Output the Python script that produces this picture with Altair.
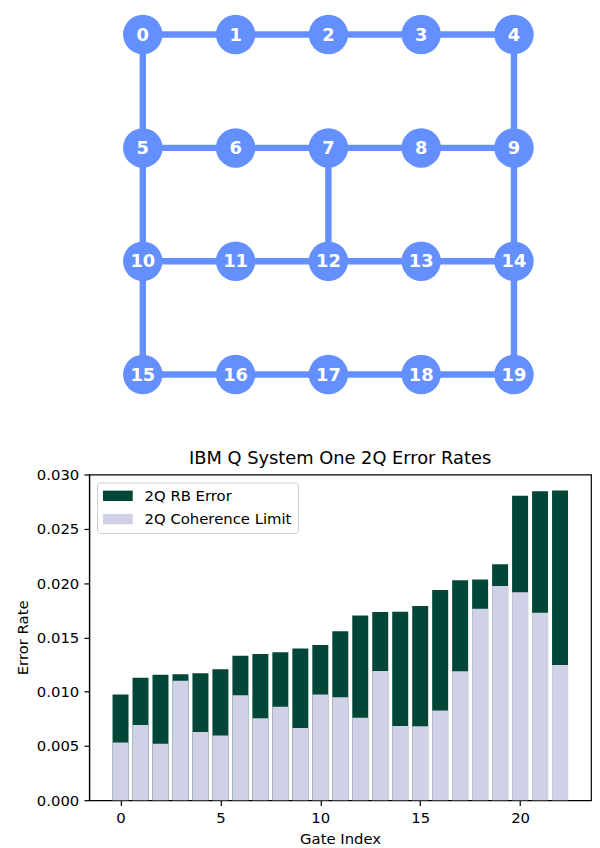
import altair as alt
import pandas as pd

# ---------------- coupling map data ----------------
qubits = list(range(20))
n_cols = 5
edge_src = [0, 1, 2, 3, 0, 4, 5, 6, 7, 8, 5, 7, 9, 10, 11, 12, 13, 10, 14, 15, 16, 17, 18]
edge_dst = [1, 2, 3, 4, 5, 9, 6, 7, 8, 9, 10, 12, 14, 11, 12, 13, 14, 15, 19, 16, 17, 18, 19]
qubit_color = "#648fff"

# ---------------- error rate data ----------------
gate_index = list(range(23))
rb_error = [0.00973, 0.01128, 0.01155, 0.01161, 0.01170, 0.01207, 0.01331, 0.01347,
            0.01362, 0.01398, 0.01429, 0.01556, 0.01702, 0.01733, 0.01736, 0.01790,
            0.01936, 0.02027, 0.02033, 0.02173, 0.02805, 0.02845, 0.02854]
coherence_limit = [0.00532, 0.00693, 0.00520, 0.01100, 0.00629, 0.00596, 0.00967, 0.00754,
                   0.00860, 0.00666, 0.00973, 0.00948, 0.00760, 0.01191, 0.00684, 0.00681,
                   0.00827, 0.01188, 0.01763, 0.01973, 0.01915, 0.01726, 0.01246]
series_names = ["2Q RB Error", "2Q Coherence Limit"]
series_colors = ["#014636", "#d0d1e6"]
y_ticks = [0.0, 0.005, 0.010, 0.015, 0.020, 0.025, 0.030]
x_ticks = [0, 5, 10, 15, 20]

FONT = "DejaVu Sans"
W = 507

# ---------------- graph panel ----------------
nodes_df = pd.DataFrame({
    "q": qubits,
    "col": [q % n_cols for q in qubits],
    "row": [q // n_cols for q in qubits],
})
edges_df = pd.DataFrame({
    "x": [s % n_cols for s in edge_src],
    "y": [s // n_cols for s in edge_src],
    "x2": [d % n_cols for d in edge_dst],
    "y2": [d // n_cols for d in edge_dst],
})

gx = alt.Scale(domain=[-0.578, 4.83], nice=False, zero=False)
gy = alt.Scale(domain=[-0.1965, 3.2096], nice=False, zero=False, reverse=True)

edges = alt.Chart(edges_df).mark_rule(strokeWidth=6.5, color=qubit_color).encode(
    x=alt.X("x:Q", scale=gx, axis=None),
    y=alt.Y("y:Q", scale=gy, axis=None),
    x2="x2:Q",
    y2="y2:Q",
)
nodes = alt.Chart(nodes_df).mark_circle(size=1590, opacity=1, color=qubit_color).encode(
    x=alt.X("col:Q", scale=gx, axis=None),
    y=alt.Y("row:Q", scale=gy, axis=None),
)
labels = alt.Chart(nodes_df).mark_text(
    font=FONT, fontWeight="bold", fontSize=18, color="white",
    align="center", baseline="middle", dy=1,
).encode(
    x=alt.X("col:Q", scale=gx, axis=None),
    y=alt.Y("row:Q", scale=gy, axis=None),
    text="q:N",
)
graph = alt.layer(edges, nodes, labels).properties(width=W, height=390)

# ---------------- bar panel ----------------
bars_df = pd.DataFrame({
    "gate": gate_index * 2,
    "value": rb_error + coherence_limit,
    "series": [series_names[0]] * len(gate_index) + [series_names[1]] * len(gate_index),
})

bx = alt.Scale(domain=[-1.57, 23.55], nice=False, zero=False)
by = alt.Scale(domain=[0, 0.030], nice=False)

color = alt.Color(
    "series:N",
    scale=alt.Scale(domain=series_names, range=series_colors),
    legend=alt.Legend(
        title=None, orient="top-left", offset=7.5,
        symbolType="M-1,-0.7L3,-0.7L3,0.7L-1,0.7Z", symbolSize=225,
        symbolStrokeWidth=0, symbolOpacity=1,
        labelFont=FONT, labelFontSize=15, labelColor="black", labelOffset=27,
        rowPadding=7.5, padding=6, fillColor="rgba(255,255,255,0.8)",
        strokeColor="#cccccc", cornerRadius=3,
    ),
)

base = alt.Chart(bars_df).transform_calculate(
    x0="datum.gate - 0.4", x1="datum.gate + 0.4"
)

def bar_layer(name):
    return base.transform_filter(alt.datum.series == name).mark_bar(opacity=1).encode(
        x=alt.X("x0:Q", scale=bx, title="Gate Index",
                axis=alt.Axis(values=x_ticks, format="d", titlePadding=6)),
        x2="x1:Q",
        y=alt.Y("value:Q", scale=by, title="Error Rate", stack=None,
                axis=alt.Axis(values=y_ticks, format=".3f", titlePadding=6)),
        y2=alt.Y2(datum=0),
        color=color,
    )

bar_chart = alt.layer(bar_layer(series_names[0]), bar_layer(series_names[1])).properties(
    width=W, height=329,
    title=alt.TitleParams("IBM Q System One 2Q Error Rates", font=FONT, fontSize=18,
                          fontWeight="normal", color="black", offset=0),
    view=alt.ViewBackground(stroke="black", strokeWidth=1.2),
)

chart = alt.vconcat(graph, bar_chart, spacing=51,
                    padding={"left": 6, "top": 0, "right": 0, "bottom": 0}).resolve_legend(
    color="independent"
).configure_view(
    stroke=None
).configure_axis(
    labelFont=FONT, titleFont=FONT, labelFontSize=15, titleFontSize=15,
    titleFontWeight="normal", labelColor="black", titleColor="black",
    domainColor="black", tickColor="black", tickSize=5.25, tickWidth=1.2,
    domainWidth=1.2, grid=False, labelPadding=5.25,
)

chart.save("out.html", embed_options={"renderer": "svg", "actions": False})
